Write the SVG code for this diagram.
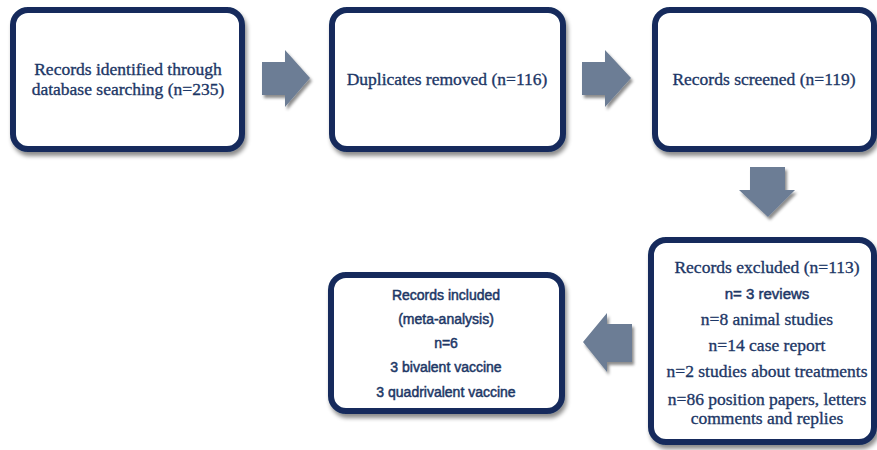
<svg xmlns="http://www.w3.org/2000/svg" width="877" height="450" viewBox="0 0 877 450">
<defs>
<filter id="sh" x="-10%" y="-10%" width="125%" height="130%">
<feDropShadow dx="2" dy="4" stdDeviation="2.2" flood-color="#000" flood-opacity="0.45"/>
</filter>
<filter id="sha" x="-20%" y="-20%" width="150%" height="150%">
<feDropShadow dx="2" dy="3" stdDeviation="1.8" flood-color="#000" flood-opacity="0.45"/>
</filter>
</defs>
<style>
.box{fill:#fff;stroke:#142c5c;stroke-width:6;filter:url(#sh)}
.arr{fill:#6c7d95;filter:url(#sha)}
.serif{font-family:"Liberation Serif","Times New Roman",serif;font-size:17.5px;fill:#1d3766;stroke:#1d3766;stroke-width:0.35;text-anchor:middle}
.sans{font-family:"Liberation Sans",Arial,sans-serif;font-size:14px;fill:#1d3766;stroke:#1d3766;stroke-width:0.5;text-anchor:middle}
</style>
<rect width="877" height="450" fill="#fff"/>
<g id="node-identified">
<rect class="box" x="13" y="10" width="229" height="139" rx="15"/>
<text class="serif" x="128" y="75">Records identified through</text>
<text class="serif" x="128" y="95">database searching (n=235)</text>
</g>
<g id="node-duplicates">
<rect class="box" x="332" y="10" width="231" height="139" rx="15"/>
<text class="serif" x="447" y="85">Duplicates removed (n=116)</text>
</g>
<g id="node-screened">
<rect class="box" x="655" y="10" width="219" height="139" rx="15"/>
<text class="serif" x="764" y="85">Records screened (n=119)</text>
</g>
<g id="node-excluded">
<rect class="box" x="651" y="240" width="223" height="202" rx="15"/>
<text class="serif" x="767" y="273">Records excluded (n=113)</text>
<text class="sans" x="767" y="299" style="font-size:15px">n= 3 reviews</text>
<text class="serif" x="767" y="325">n=8 animal studies</text>
<text class="serif" x="767" y="351">n=14 case report</text>
<text class="serif" x="767" y="377">n=2 studies about treatments</text>
<text class="serif" x="767" y="405">n=86 position papers, letters</text>
<text class="serif" x="767" y="424">comments and replies</text>
</g>
<g id="node-included">
<rect class="box" x="331" y="275" width="231" height="136" rx="15"/>
<text class="sans" x="446" y="300">Records included</text>
<text class="sans" x="446" y="324">(meta-analysis)</text>
<text class="sans" x="446" y="348">n=6</text>
<text class="sans" x="446" y="372">3 bivalent vaccine</text>
<text class="sans" x="446" y="397">3 quadrivalent vaccine</text>
</g>
<g id="connectors">
<polygon class="arr" points="262,62 285,62 285,50 310,78 285,107 285,95 262,95"/>
<polygon class="arr" points="582,62 605,62 605,50 631,78 605,107 605,95 582,95"/>
<polygon class="arr" points="750,167 785,167 785,190 795,190 768,217 739,190 750,190"/>
<polygon class="arr" points="632,324 607,324 607,313 583,342 607,372 607,362 632,362"/>
</g>
</svg>
